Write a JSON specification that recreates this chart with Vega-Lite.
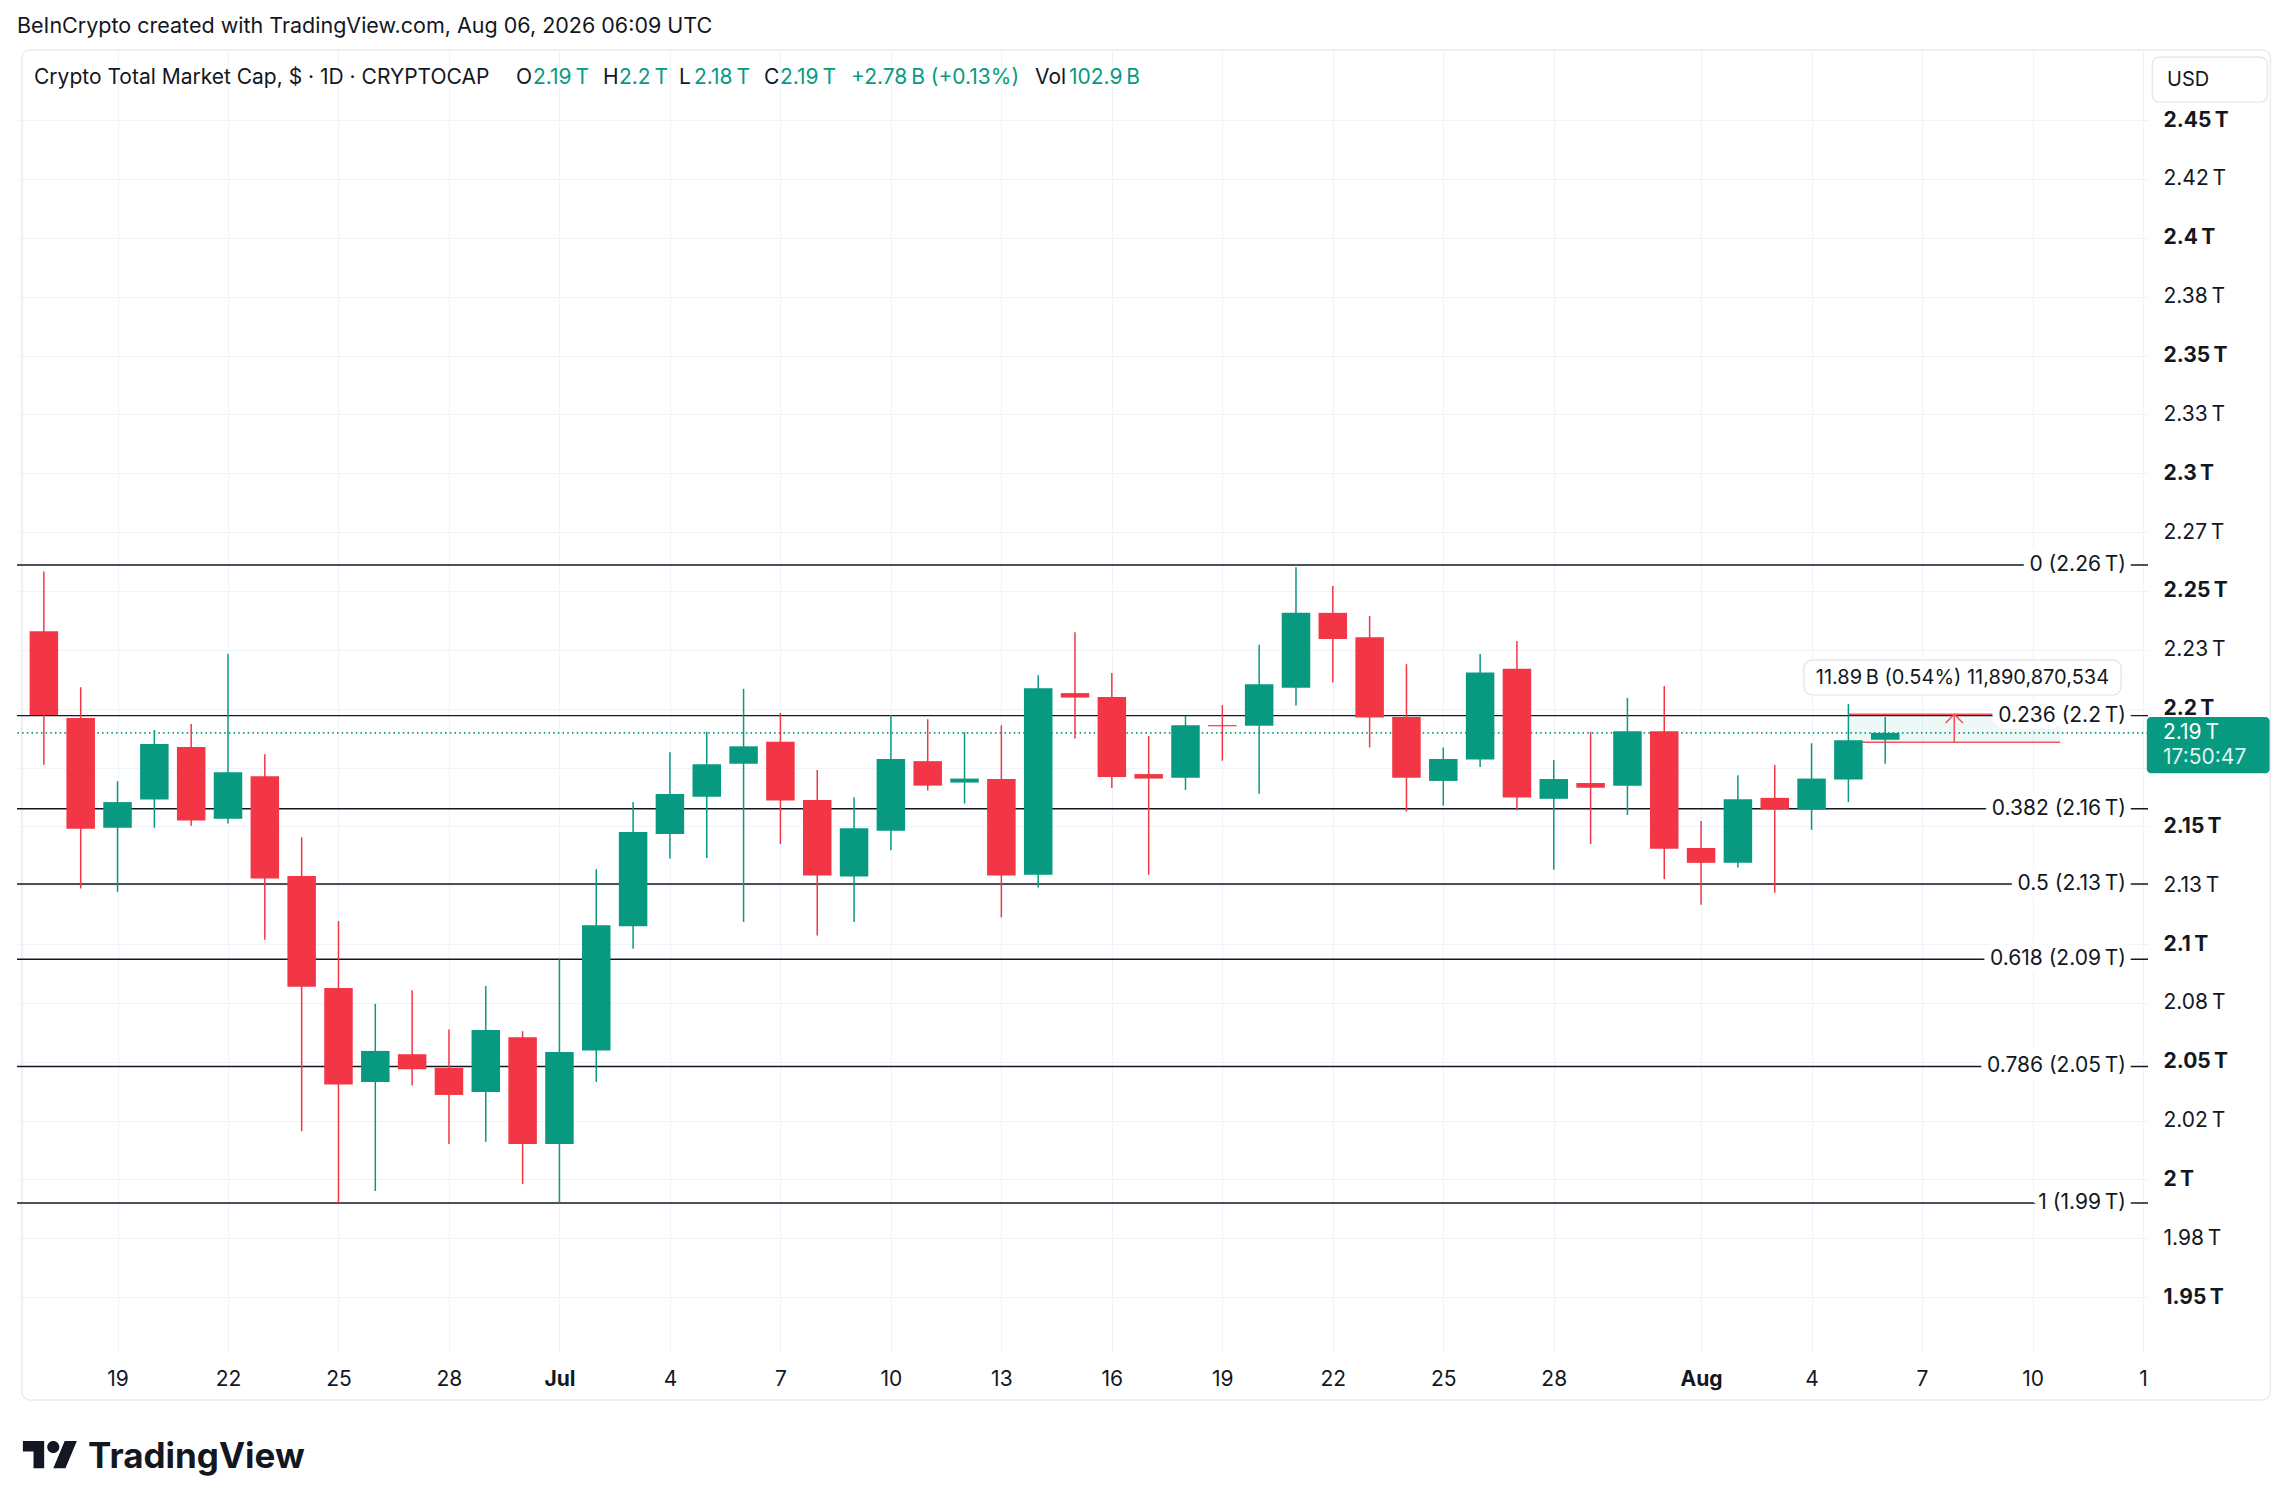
{
  "$schema": "https://vega.github.io/schema/vega-lite/v6.json",
  "width": 2131,
  "height": 1302,
  "autosize": "none",
  "padding": {"left": 17, "top": 50, "right": 146, "bottom": 157},
  "background": "white",
  "config": {"view": {"stroke": null}, "font": "Inter"},
  "title": {
    "text": "BeInCrypto created with TradingView.com, Aug 06, 2026 06:09 UTC",
    "anchor": "start", "frame": "group", "fontSize": 21.5, "fontWeight": "normal",
    "color": "#131722", "font": "Inter", "offset": -10, "baseline": "bottom"
  },
  "data": {"values": [{}]},
  "datasets": {
    "candles": [
      {"date": "2026-06-17", "open": 2.2329, "high": 2.2583, "low": 2.1762, "close": 2.1973},
      {"date": "2026-06-18", "open": 2.1960, "high": 2.2091, "low": 2.1236, "close": 2.1490},
      {"date": "2026-06-19", "open": 2.1494, "high": 2.1692, "low": 2.1222, "close": 2.1603},
      {"date": "2026-06-20", "open": 2.1614, "high": 2.1909, "low": 2.1494, "close": 2.1850},
      {"date": "2026-06-21", "open": 2.1837, "high": 2.1935, "low": 2.1503, "close": 2.1525},
      {"date": "2026-06-22", "open": 2.1532, "high": 2.2232, "low": 2.1512, "close": 2.1730},
      {"date": "2026-06-23", "open": 2.1713, "high": 2.1806, "low": 2.1018, "close": 2.1278},
      {"date": "2026-06-24", "open": 2.1289, "high": 2.1454, "low": 2.0205, "close": 2.0819},
      {"date": "2026-06-25", "open": 2.0813, "high": 2.1098, "low": 1.9900, "close": 2.0403},
      {"date": "2026-06-26", "open": 2.0414, "high": 2.0746, "low": 1.9951, "close": 2.0546},
      {"date": "2026-06-27", "open": 2.0532, "high": 2.0804, "low": 2.0399, "close": 2.0468},
      {"date": "2026-06-28", "open": 2.0474, "high": 2.0637, "low": 2.0151, "close": 2.0359},
      {"date": "2026-06-29", "open": 2.0372, "high": 2.0822, "low": 2.0160, "close": 2.0635},
      {"date": "2026-06-30", "open": 2.0604, "high": 2.0630, "low": 1.9980, "close": 2.0151},
      {"date": "2026-07-01", "open": 2.0151, "high": 2.0935, "low": 1.9900, "close": 2.0541},
      {"date": "2026-07-02", "open": 2.0548, "high": 2.1318, "low": 2.0414, "close": 2.1080},
      {"date": "2026-07-03", "open": 2.1076, "high": 2.1603, "low": 2.0980, "close": 2.1476},
      {"date": "2026-07-04", "open": 2.1468, "high": 2.1815, "low": 2.1363, "close": 2.1637},
      {"date": "2026-07-05", "open": 2.1626, "high": 2.1902, "low": 2.1366, "close": 2.1764},
      {"date": "2026-07-06", "open": 2.1766, "high": 2.2084, "low": 2.1094, "close": 2.1840},
      {"date": "2026-07-07", "open": 2.1859, "high": 2.1982, "low": 2.1425, "close": 2.1610},
      {"date": "2026-07-08", "open": 2.1612, "high": 2.1739, "low": 2.1036, "close": 2.1291},
      {"date": "2026-07-09", "open": 2.1287, "high": 2.1624, "low": 2.1094, "close": 2.1492},
      {"date": "2026-07-10", "open": 2.1481, "high": 2.1973, "low": 2.1398, "close": 2.1786},
      {"date": "2026-07-11", "open": 2.1777, "high": 2.1955, "low": 2.1652, "close": 2.1673},
      {"date": "2026-07-12", "open": 2.1686, "high": 2.1900, "low": 2.1597, "close": 2.1703},
      {"date": "2026-07-13", "open": 2.1701, "high": 2.1929, "low": 2.1113, "close": 2.1291},
      {"date": "2026-07-14", "open": 2.1294, "high": 2.2142, "low": 2.1240, "close": 2.2087},
      {"date": "2026-07-15", "open": 2.2066, "high": 2.2325, "low": 2.1873, "close": 2.2047},
      {"date": "2026-07-16", "open": 2.2049, "high": 2.2151, "low": 2.1663, "close": 2.1710},
      {"date": "2026-07-17", "open": 2.1722, "high": 2.1884, "low": 2.1294, "close": 2.1703},
      {"date": "2026-07-18", "open": 2.1706, "high": 2.1969, "low": 2.1654, "close": 2.1929},
      {"date": "2026-07-19", "open": 2.1930, "high": 2.2015, "low": 2.1779, "close": 2.1925},
      {"date": "2026-07-20", "open": 2.1927, "high": 2.2271, "low": 2.1639, "close": 2.2104},
      {"date": "2026-07-21", "open": 2.2089, "high": 2.2601, "low": 2.2013, "close": 2.2407},
      {"date": "2026-07-22", "open": 2.2407, "high": 2.2521, "low": 2.2111, "close": 2.2296},
      {"date": "2026-07-23", "open": 2.2303, "high": 2.2394, "low": 2.1835, "close": 2.1962},
      {"date": "2026-07-24", "open": 2.1964, "high": 2.2189, "low": 2.1563, "close": 2.1706},
      {"date": "2026-07-25", "open": 2.1693, "high": 2.1835, "low": 2.1588, "close": 2.1786},
      {"date": "2026-07-26", "open": 2.1784, "high": 2.2232, "low": 2.1752, "close": 2.2154},
      {"date": "2026-07-27", "open": 2.2169, "high": 2.2287, "low": 2.1568, "close": 2.1623},
      {"date": "2026-07-28", "open": 2.1617, "high": 2.1782, "low": 2.1316, "close": 2.1701},
      {"date": "2026-07-29", "open": 2.1684, "high": 2.1902, "low": 2.1425, "close": 2.1664},
      {"date": "2026-07-30", "open": 2.1673, "high": 2.2046, "low": 2.1548, "close": 2.1904},
      {"date": "2026-07-31", "open": 2.1904, "high": 2.2096, "low": 2.1276, "close": 2.1405},
      {"date": "2026-08-01", "open": 2.1408, "high": 2.1523, "low": 2.1167, "close": 2.1345},
      {"date": "2026-08-02", "open": 2.1345, "high": 2.1717, "low": 2.1325, "close": 2.1615},
      {"date": "2026-08-03", "open": 2.1621, "high": 2.1761, "low": 2.1218, "close": 2.1574},
      {"date": "2026-08-04", "open": 2.1572, "high": 2.1853, "low": 2.1485, "close": 2.1703},
      {"date": "2026-08-05", "open": 2.1699, "high": 2.2020, "low": 2.1603, "close": 2.1866},
      {"date": "2026-08-06", "open": 2.1868, "high": 2.1964, "low": 2.1766, "close": 2.1897}
    ],
    "fibs": [
      {"level": "0", "value": 2.261, "label": "0 (2.26\u2009T)"},
      {"level": "0.236", "value": 2.19704, "label": "0.236 (2.2\u2009T)"},
      {"level": "0.382", "value": 2.15748, "label": "0.382 (2.16\u2009T)"},
      {"level": "0.5", "value": 2.1255, "label": "0.5 (2.13\u2009T)"},
      {"level": "0.618", "value": 2.09352, "label": "0.618 (2.09\u2009T)"},
      {"level": "0.786", "value": 2.04799, "label": "0.786 (2.05\u2009T)"},
      {"level": "1", "value": 1.99, "label": "1 (1.99\u2009T)"}
    ]
  },
  "layer": [
    {
      "data": {"name": "candles"},
      "mark": {"type": "rule", "strokeWidth": 0, "opacity": 0},
      "encoding": {
        "x": {
          "field": "date", "type": "temporal",
          "scale": {"type": "utc", "domain": [
            {"year": 2026, "month": 6, "date": 16, "hours": 9, "minutes": 45, "utc": true},
            {"year": 2026, "month": 8, "date": 13, "utc": true}
          ]},
          "axis": {
            "title": null, "ticks": false, "domain": false, "zindex": 0,
            "grid": true, "gridColor": "#F0F3FA", "gridWidth": 1,
            "labelFontSize": 21, "labelColor": "#131722", "labelPadding": 16,
            "labelOverlap": false,
            "labelFontWeight": {"condition": {"test": "utcdate(datum.value) == 1", "value": "bold"}, "value": "normal"},
            "labelExpr": "utcdate(datum.value) == 1 ? utcFormat(datum.value, '%b') : (utcmonth(datum.value) == 7 && utcdate(datum.value) == 13 ? '1' : '' + utcdate(datum.value))",
            "values": [
              {"year": 2026, "month": 6, "date": 19, "utc": true},
              {"year": 2026, "month": 6, "date": 22, "utc": true},
              {"year": 2026, "month": 6, "date": 25, "utc": true},
              {"year": 2026, "month": 6, "date": 28, "utc": true},
              {"year": 2026, "month": 7, "date": 1, "utc": true},
              {"year": 2026, "month": 7, "date": 4, "utc": true},
              {"year": 2026, "month": 7, "date": 7, "utc": true},
              {"year": 2026, "month": 7, "date": 10, "utc": true},
              {"year": 2026, "month": 7, "date": 13, "utc": true},
              {"year": 2026, "month": 7, "date": 16, "utc": true},
              {"year": 2026, "month": 7, "date": 19, "utc": true},
              {"year": 2026, "month": 7, "date": 22, "utc": true},
              {"year": 2026, "month": 7, "date": 25, "utc": true},
              {"year": 2026, "month": 7, "date": 28, "utc": true},
              {"year": 2026, "month": 8, "date": 1, "utc": true},
              {"year": 2026, "month": 8, "date": 4, "utc": true},
              {"year": 2026, "month": 8, "date": 7, "utc": true},
              {"year": 2026, "month": 8, "date": 10, "utc": true},
              {"year": 2026, "month": 8, "date": 13, "utc": true}
            ]
          }
        },
        "y": {
          "field": "low", "type": "quantitative",
          "scale": {"domain": [1.9267, 2.4798], "zero": false, "nice": false},
          "axis": {
            "orient": "right", "title": null, "ticks": false, "domain": false, "zindex": 0,
            "grid": true, "gridColor": "#F0F3FA", "gridWidth": 1,
            "labelFontSize": 21, "labelColor": "#131722", "labelPadding": 15,
            "labelOverlap": false, "labelAlign": "left", "labelBaseline": "middle",
            "labelFontWeight": {"condition": {"test": "abs(datum.value * 20 - round(datum.value * 20)) < 0.001", "value": "bold"}, "value": "normal"},
            "labelExpr": "abs(datum.value - 2.175) < 0.001 ? '' : (abs(datum.value - 2.425) < 0.001 ? '2.42' : format(datum.value, '.2~f')) + '\u2009T'",
            "values": [1.95, 1.975, 2, 2.025, 2.05, 2.075, 2.1, 2.125, 2.15, 2.175, 2.2, 2.225, 2.25, 2.275, 2.3, 2.325, 2.35, 2.375, 2.4, 2.425, 2.45]
          }
        },
        "y2": {"field": "high"}
      }
    },
    {
      "mark": {"type": "rect", "filled": false, "stroke": "#E9ECF2", "strokeWidth": 1.5, "cornerRadius": 8},
      "encoding": {
        "x": {"datum": {"year": 2026, "month": 6, "date": 16, "hours": 9, "minutes": 45, "utc": true}, "type": "temporal"},
        "x2": {"datum": {"year": 2026, "month": 8, "date": 16, "hours": 11, "utc": true}},
        "y": {"datum": 2.4798, "type": "quantitative"},
        "y2": {"datum": 1.9063}
      }
    },
    {
      "data": {"name": "fibs"},
      "mark": {"type": "rule", "color": "#131722", "strokeWidth": 1.4},
      "encoding": {"y": {"field": "value", "type": "quantitative"}}
    },
    {
      "mark": {"type": "rule", "color": "#089981", "strokeWidth": 1.6, "strokeDash": [1.5, 3.2]},
      "encoding": {"y": {"datum": 2.1897, "type": "quantitative"}}
    },
    {
      "mark": {"type": "rect", "color": "#089981", "opacity": 0.07},
      "encoding": {
        "x": {"datum": {"year": 2026, "month": 8, "date": 5, "utc": true}, "type": "temporal"},
        "x2": {"datum": {"year": 2026, "month": 8, "date": 10, "hours": 18, "utc": true}},
        "y": {"datum": 2.1976, "type": "quantitative"},
        "y2": {"datum": 2.1857}
      }
    },
    {
      "mark": {"type": "rule", "color": "#F7525F", "strokeWidth": 1.6},
      "encoding": {
        "x": {"datum": {"year": 2026, "month": 8, "date": 5, "utc": true}, "type": "temporal"},
        "x2": {"datum": {"year": 2026, "month": 8, "date": 10, "hours": 18, "utc": true}},
        "y": {"datum": 2.1976, "type": "quantitative"}
      }
    },
    {
      "mark": {"type": "rule", "color": "#F7525F", "strokeWidth": 1.6},
      "encoding": {
        "x": {"datum": {"year": 2026, "month": 8, "date": 5, "utc": true}, "type": "temporal"},
        "x2": {"datum": {"year": 2026, "month": 8, "date": 10, "hours": 18, "utc": true}},
        "y": {"datum": 2.1857, "type": "quantitative"}
      }
    },
    {
      "data": {"name": "candles"},
      "mark": {"type": "rule", "strokeWidth": 1.5},
      "encoding": {
        "x": {"field": "date", "type": "temporal"},
        "y": {"field": "low", "type": "quantitative"},
        "y2": {"field": "high"},
        "color": {"condition": {"test": "datum.close >= datum.open", "value": "#089981"}, "value": "#F23645"}
      }
    },
    {
      "data": {"name": "candles"},
      "mark": {"type": "bar", "size": 28.5},
      "encoding": {
        "x": {"field": "date", "type": "temporal"},
        "y": {"field": "open", "type": "quantitative"},
        "y2": {"field": "close"},
        "color": {"condition": {"test": "datum.close >= datum.open", "value": "#089981"}, "value": "#F23645"}
      }
    },
    {
      "mark": {"type": "rule", "color": "#F7525F", "strokeWidth": 1.6},
      "encoding": {
        "x": {"datum": {"year": 2026, "month": 8, "date": 7, "hours": 21, "utc": true}, "type": "temporal"},
        "y": {"datum": 2.1857, "type": "quantitative"},
        "y2": {"datum": 2.1976}
      }
    },
    {
      "mark": {"type": "point", "shape": "M-1,1L0,0L1,1", "filled": false, "stroke": "#F7525F", "strokeWidth": 1.6, "size": 300, "opacity": 1},
      "encoding": {
        "x": {"datum": {"year": 2026, "month": 8, "date": 7, "hours": 21, "utc": true}, "type": "temporal"},
        "y": {"datum": 2.1976, "type": "quantitative"}
      }
    },
    {
      "data": {"name": "fibs"},
      "mark": {"type": "text", "align": "right", "baseline": "middle", "dx": -17, "fontSize": 21, "fill": "white", "stroke": "white", "strokeWidth": 14, "strokeJoin": "round"},
      "encoding": {
        "x": {"datum": {"year": 2026, "month": 8, "date": 13, "utc": true}, "type": "temporal"},
        "y": {"field": "value", "type": "quantitative"},
        "text": {"field": "label"}
      }
    },
    {
      "data": {"name": "fibs"},
      "mark": {"type": "text", "align": "right", "baseline": "middle", "dx": -17, "fontSize": 21, "fill": "#131722"},
      "encoding": {
        "x": {"datum": {"year": 2026, "month": 8, "date": 13, "utc": true}, "type": "temporal"},
        "y": {"field": "value", "type": "quantitative"},
        "text": {"field": "label"}
      }
    },
    {
      "mark": {"type": "rect", "fill": "white", "stroke": "#E0E3EB", "strokeWidth": 1.2, "cornerRadius": 8},
      "encoding": {
        "x": {"datum": {"year": 2026, "month": 8, "date": 3, "hours": 19, "utc": true}, "type": "temporal"},
        "x2": {"datum": {"year": 2026, "month": 8, "date": 12, "hours": 9, "minutes": 45, "utc": true}},
        "y": {"datum": 2.2206, "type": "quantitative"},
        "y2": {"datum": 2.2058}
      }
    },
    {
      "mark": {"type": "text", "align": "center", "baseline": "middle", "fontSize": 20, "fill": "#131722"},
      "encoding": {
        "x": {"datum": {"year": 2026, "month": 8, "date": 8, "hours": 2, "minutes": 20, "utc": true}, "type": "temporal"},
        "y": {"datum": 2.2132, "type": "quantitative"},
        "text": {"value": "11.89\u2009B (0.54%) 11,890,870,534"}
      }
    },
    {
      "mark": {"type": "rect", "fill": "#089981", "cornerRadius": 4},
      "encoding": {
        "x": {"datum": {"year": 2026, "month": 8, "date": 13, "hours": 2, "minutes": 30, "utc": true}, "type": "temporal"},
        "x2": {"datum": {"year": 2026, "month": 8, "date": 16, "hours": 10, "minutes": 30, "utc": true}},
        "y": {"datum": 2.1964, "type": "quantitative"},
        "y2": {"datum": 2.1726}
      }
    },
    {
      "mark": {"type": "text", "align": "left", "baseline": "middle", "dx": 20, "fontSize": 21, "fill": "white"},
      "encoding": {
        "x": {"datum": {"year": 2026, "month": 8, "date": 13, "utc": true}, "type": "temporal"},
        "y": {"datum": 2.1896, "type": "quantitative"},
        "text": {"value": "2.19\u2009T"}
      }
    },
    {
      "mark": {"type": "text", "align": "left", "baseline": "middle", "dx": 20, "fontSize": 21, "fill": "white", "opacity": 0.88},
      "encoding": {
        "x": {"datum": {"year": 2026, "month": 8, "date": 13, "utc": true}, "type": "temporal"},
        "y": {"datum": 2.179, "type": "quantitative"},
        "text": {"value": "17:50:47"}
      }
    },
    {
      "mark": {"type": "rect", "fill": "white", "stroke": "#E0E3EB", "strokeWidth": 1.2, "cornerRadius": 7},
      "encoding": {
        "x": {"datum": {"year": 2026, "month": 8, "date": 13, "hours": 6, "utc": true}, "type": "temporal"},
        "x2": {"datum": {"year": 2026, "month": 8, "date": 16, "hours": 9, "utc": true}},
        "y": {"datum": 2.4768, "type": "quantitative"},
        "y2": {"datum": 2.4577}
      }
    },
    {
      "mark": {"type": "text", "align": "left", "baseline": "middle", "dx": 24, "fontSize": 20, "fill": "#131722"},
      "encoding": {
        "x": {"datum": {"year": 2026, "month": 8, "date": 13, "utc": true}, "type": "temporal"},
        "y": {"datum": 2.467, "type": "quantitative"},
        "text": {"value": "USD"}
      }
    },
    {
      "mark": {"type": "text", "align": "left", "baseline": "middle", "dx": 12, "fontSize": 21, "fill": "#131722"},
      "encoding": {
        "x": {"datum": {"year": 2026, "month": 6, "date": 16, "hours": 9, "minutes": 45, "utc": true}, "type": "temporal"},
        "y": {"datum": 2.4681, "type": "quantitative"},
        "text": {"value": "Crypto Total Market Cap, $ \u00b7 1D \u00b7 CRYPTOCAP"}
      }
    },
    {
      "mark": {"type": "text", "align": "left", "baseline": "middle", "dx": 494, "fontSize": 21, "fill": "#131722"},
      "encoding": {
        "x": {"datum": {"year": 2026, "month": 6, "date": 16, "hours": 9, "minutes": 45, "utc": true}, "type": "temporal"},
        "y": {"datum": 2.4681, "type": "quantitative"},
        "text": {"value": "O"}
      }
    },
    {
      "mark": {"type": "text", "align": "left", "baseline": "middle", "dx": 511, "fontSize": 21, "fill": "#089981"},
      "encoding": {
        "x": {"datum": {"year": 2026, "month": 6, "date": 16, "hours": 9, "minutes": 45, "utc": true}, "type": "temporal"},
        "y": {"datum": 2.4681, "type": "quantitative"},
        "text": {"value": "2.19\u2009T"}
      }
    },
    {
      "mark": {"type": "text", "align": "left", "baseline": "middle", "dx": 581, "fontSize": 21, "fill": "#131722"},
      "encoding": {
        "x": {"datum": {"year": 2026, "month": 6, "date": 16, "hours": 9, "minutes": 45, "utc": true}, "type": "temporal"},
        "y": {"datum": 2.4681, "type": "quantitative"},
        "text": {"value": "H"}
      }
    },
    {
      "mark": {"type": "text", "align": "left", "baseline": "middle", "dx": 597, "fontSize": 21, "fill": "#089981"},
      "encoding": {
        "x": {"datum": {"year": 2026, "month": 6, "date": 16, "hours": 9, "minutes": 45, "utc": true}, "type": "temporal"},
        "y": {"datum": 2.4681, "type": "quantitative"},
        "text": {"value": "2.2\u2009T"}
      }
    },
    {
      "mark": {"type": "text", "align": "left", "baseline": "middle", "dx": 657, "fontSize": 21, "fill": "#131722"},
      "encoding": {
        "x": {"datum": {"year": 2026, "month": 6, "date": 16, "hours": 9, "minutes": 45, "utc": true}, "type": "temporal"},
        "y": {"datum": 2.4681, "type": "quantitative"},
        "text": {"value": "L"}
      }
    },
    {
      "mark": {"type": "text", "align": "left", "baseline": "middle", "dx": 672, "fontSize": 21, "fill": "#089981"},
      "encoding": {
        "x": {"datum": {"year": 2026, "month": 6, "date": 16, "hours": 9, "minutes": 45, "utc": true}, "type": "temporal"},
        "y": {"datum": 2.4681, "type": "quantitative"},
        "text": {"value": "2.18\u2009T"}
      }
    },
    {
      "mark": {"type": "text", "align": "left", "baseline": "middle", "dx": 742, "fontSize": 21, "fill": "#131722"},
      "encoding": {
        "x": {"datum": {"year": 2026, "month": 6, "date": 16, "hours": 9, "minutes": 45, "utc": true}, "type": "temporal"},
        "y": {"datum": 2.4681, "type": "quantitative"},
        "text": {"value": "C"}
      }
    },
    {
      "mark": {"type": "text", "align": "left", "baseline": "middle", "dx": 758, "fontSize": 21, "fill": "#089981"},
      "encoding": {
        "x": {"datum": {"year": 2026, "month": 6, "date": 16, "hours": 9, "minutes": 45, "utc": true}, "type": "temporal"},
        "y": {"datum": 2.4681, "type": "quantitative"},
        "text": {"value": "2.19\u2009T"}
      }
    },
    {
      "mark": {"type": "text", "align": "left", "baseline": "middle", "dx": 829, "fontSize": 21, "fill": "#089981"},
      "encoding": {
        "x": {"datum": {"year": 2026, "month": 6, "date": 16, "hours": 9, "minutes": 45, "utc": true}, "type": "temporal"},
        "y": {"datum": 2.4681, "type": "quantitative"},
        "text": {"value": "+2.78\u2009B (+0.13%)"}
      }
    },
    {
      "mark": {"type": "text", "align": "left", "baseline": "middle", "dx": 1013, "fontSize": 21, "fill": "#131722"},
      "encoding": {
        "x": {"datum": {"year": 2026, "month": 6, "date": 16, "hours": 9, "minutes": 45, "utc": true}, "type": "temporal"},
        "y": {"datum": 2.4681, "type": "quantitative"},
        "text": {"value": "Vol"}
      }
    },
    {
      "mark": {"type": "text", "align": "left", "baseline": "middle", "dx": 1047, "fontSize": 21, "fill": "#089981"},
      "encoding": {
        "x": {"datum": {"year": 2026, "month": 6, "date": 16, "hours": 9, "minutes": 45, "utc": true}, "type": "temporal"},
        "y": {"datum": 2.4681, "type": "quantitative"},
        "text": {"value": "102.9\u2009B"}
      }
    },
    {
      "mark": {
        "type": "point", "filled": true, "color": "#131722", "opacity": 1, "size": 2916, "strokeWidth": 0,
        "shape": "M-0.211,0.507L-0.606,0.507L-0.606,-0.113L-1,-0.113L-1,-0.507L-0.211,-0.507ZM0.577,0.507L0.127,0.507L0.549,-0.507L1,-0.507ZM-0.098,-0.282A0.225,0.225,0,1,0,0.352,-0.282A0.225,0.225,0,1,0,-0.098,-0.282Z"
      },
      "encoding": {
        "x": {"datum": {"year": 2026, "month": 6, "date": 17, "hours": 3, "minutes": 55, "utc": true}, "type": "temporal"},
        "y": {"datum": 1.8831, "type": "quantitative"}
      }
    },
    {
      "mark": {"type": "text", "align": "left", "baseline": "alphabetic", "dx": 66, "fontSize": 35, "fontWeight": "bold", "fill": "#131722"},
      "encoding": {
        "x": {"datum": {"year": 2026, "month": 6, "date": 16, "hours": 9, "minutes": 45, "utc": true}, "type": "temporal"},
        "y": {"datum": 1.8776, "type": "quantitative"},
        "text": {"value": "TradingView"}
      }
    }
  ]
}
